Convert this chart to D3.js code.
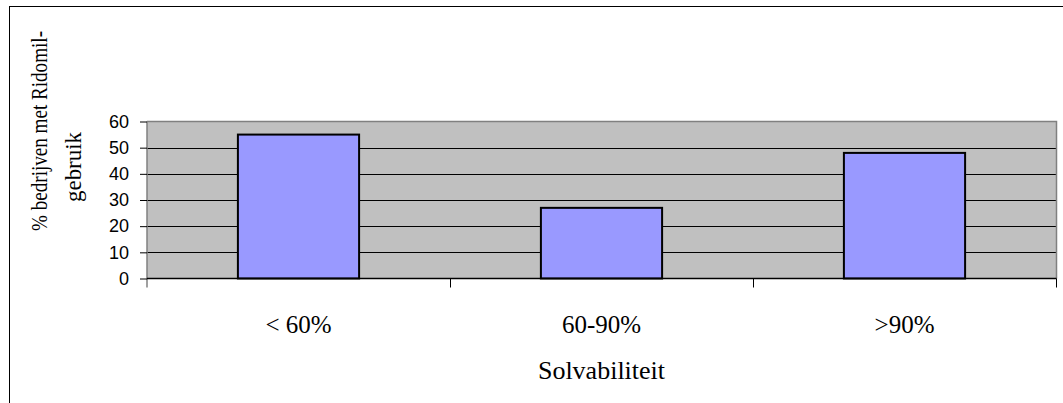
<!DOCTYPE html>
<html><head><meta charset="utf-8">
<script src="https://cdn.jsdelivr.net/npm/d3@7"></script>
<style>html,body{margin:0;padding:0;background:#fff;}svg{display:block;}</style>
</head><body>
<script>
const categories = ["< 60%", "60-90%", ">90%"];
const values = [55, 27, 48];
const yTicks = [0, 10, 20, 30, 40, 50, 60];
const yTitleLines = ["% bedrijven met Ridomil-", "gebruik"];
const xTitle = "Solvabiliteit";

const W = 1063, H = 403;
const L = 147, R = 1056, T = 121.5, B = 278.5;

const svg = d3.select("body").append("svg").attr("width", W).attr("height", H);

svg.append("rect").attr("x", 9.5).attr("y", 6.5).attr("width", 1200).attr("height", 600)
  .attr("fill", "#fff").attr("stroke", "#000").attr("stroke-width", 1);

const x = d3.scaleBand().domain(categories).range([L, R]).paddingInner(0.6).paddingOuter(0.3);
const y = d3.scaleLinear().domain([0, 60]).range([B, T]);

// plot background
svg.append("rect").attr("x", L).attr("y", T).attr("width", R - L).attr("height", B - T)
  .attr("fill", "#C0C0C0");

// gridlines
svg.append("g").selectAll("line").data(yTicks.filter(d => d > 0 && d < 60)).join("line")
  .attr("x1", L).attr("x2", R).attr("y1", d => Math.round(y(d)) + 0.5).attr("y2", d => Math.round(y(d)) + 0.5)
  .attr("stroke", "#000").attr("stroke-width", 1);

// plot border top/right (gray)
svg.append("path").attr("d", `M${L},${T}H${R + 0.5}V${B}`).attr("fill", "none")
  .attr("stroke", "#808080").attr("stroke-width", 1.5);

// bars
svg.append("g").selectAll("rect").data(values).join("rect")
  .attr("x", (d, i) => x(categories[i]))
  .attr("y", d => y(d))
  .attr("width", x.bandwidth())
  .attr("height", d => B - y(d))
  .attr("fill", "#9999FF").attr("stroke", "#000").attr("stroke-width", 2);

// y axis
const yAxis = d3.axisLeft(y).tickValues(yTicks).tickSize(7).tickPadding(11);
const gy = svg.append("g").attr("transform", `translate(${L},0)`).call(yAxis);
gy.select(".domain").attr("d", `M0,${T}V${B + 9}`).attr("stroke", "#808080").attr("stroke-width", 1.5);
gy.selectAll(".tick line").attr("stroke", "#000");
gy.selectAll(".tick text").attr("font-family", "Liberation Sans, Arial, sans-serif")
  .attr("font-size", 18).attr("fill", "#000");

// x axis
const step = x.step();
const xTickPos = d3.range(categories.length + 1).map(i => L + i * step);
svg.append("line").attr("x1", L).attr("x2", R + 0.5).attr("y1", B).attr("y2", B)
  .attr("stroke", "#000").attr("stroke-width", 1.5);
svg.append("g").selectAll("line").data(xTickPos.slice(1)).join("line")
  .attr("x1", d => Math.round(d) + 0.5).attr("x2", d => Math.round(d) + 0.5)
  .attr("y1", B).attr("y2", B + 9).attr("stroke", "#000").attr("stroke-width", 1);

svg.append("g").selectAll("text").data(categories).join("text")
  .attr("x", d => x(d) + x.bandwidth() / 2).attr("y", 333)
  .attr("text-anchor", "middle")
  .attr("font-family", "Liberation Serif, Times New Roman, serif").attr("font-size", 25)
  .text(d => d);

svg.append("text").attr("x", (L + R) / 2).attr("y", 379).attr("text-anchor", "middle")
  .attr("font-family", "Liberation Serif, Times New Roman, serif").attr("font-size", 26)
  .text(xTitle);

// y title (rotated)
const yTitlePos = [{bx: 47, cy: 131, len: 200}, {bx: 81, cy: 167, len: 70}];
svg.append("g").selectAll("text").data(yTitleLines).join("text")
  .attr("transform", (d, i) => `translate(${yTitlePos[i].bx},${yTitlePos[i].cy}) rotate(-90)`)
  .attr("text-anchor", "middle")
  .attr("font-family", "Liberation Serif, Times New Roman, serif").attr("font-size", 23)
  .attr("textLength", (d, i) => yTitlePos[i].len).attr("lengthAdjust", "spacingAndGlyphs")
  .text(d => d);
</script>
</body></html>
